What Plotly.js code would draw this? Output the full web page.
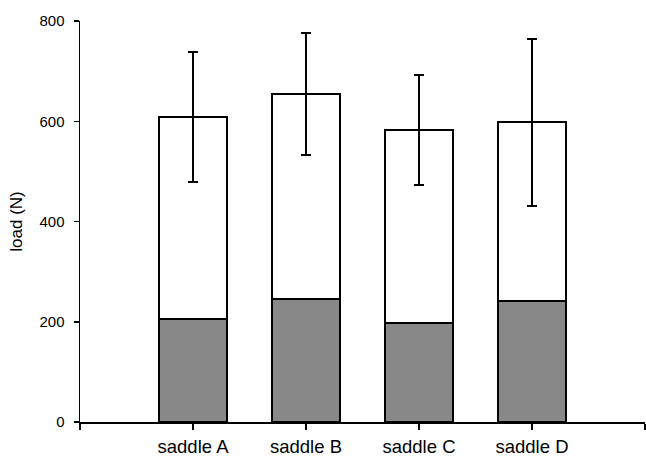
<!DOCTYPE html>
<html>
<head>
<meta charset="utf-8">
<script src="https://cdn.plot.ly/plotly-3.0.1.min.js"></script>
<style>html,body{margin:0;padding:0;background:#fff;}#chart{width:646px;height:466px;}</style>
</head>
<body>
<div id="chart"></div>
<script>
var categories = ["saddle A", "saddle B", "saddle C", "saddle D"];
var lowerLoad = [205, 245, 198, 241];
var upperLoad = [403, 410, 385, 357];
var totalError = [130, 122, 110, 167];
var yTicks = [0, 200, 400, 600, 800];

var xPos = categories.map(function (c, i) { return i; });
var xTickVals = [-1].concat(xPos, [categories.length]);
var xTickText = [""].concat(categories, [""]);

var traces = [
  {
    type: "bar", x: xPos, y: lowerLoad, width: 0.6,
    marker: { color: "#888888", line: { color: "#000", width: 2 } },
    hoverinfo: "none"
  },
  {
    type: "bar", x: xPos, y: upperLoad, width: 0.6,
    marker: { color: "#ffffff", line: { color: "#000", width: 2 } },
    error_y: { type: "data", array: totalError, visible: true, color: "#000", thickness: 2, width: 5 },
    hoverinfo: "none"
  }
];

var layout = {
  width: 646, height: 466,
  margin: { l: 80, r: 1, t: 21, b: 44 },
  paper_bgcolor: "#fff", plot_bgcolor: "#fff",
  barmode: "stack",
  showlegend: false,
  font: { family: "Liberation Sans, Arial, sans-serif", color: "#000" },
  xaxis: {
    range: [-1, categories.length],
    tickmode: "array", tickvals: xTickVals, ticktext: xTickText,
    ticks: "outside", ticklen: 6, tickwidth: 1.5, tickcolor: "#000",
    showline: true, linecolor: "#000", linewidth: 1.5,
    showgrid: false, zeroline: false,
    tickfont: { size: 18.5 }, ticklabelstandoff: 1
  },
  yaxis: {
    range: [0, 800],
    tickmode: "array", tickvals: yTicks,
    ticks: "outside", ticklen: 5, tickwidth: 1.5, tickcolor: "#000",
    showline: true, linecolor: "#000", linewidth: 1.5,
    showgrid: false, zeroline: false,
    tickfont: { size: 15 }, ticklabelstandoff: 6,
    title: { text: "load (N)", font: { size: 17 }, standoff: 12 }
  }
};

Plotly.newPlot("chart", traces, layout, { displayModeBar: false, staticPlot: true });
</script>
</body>
</html>
